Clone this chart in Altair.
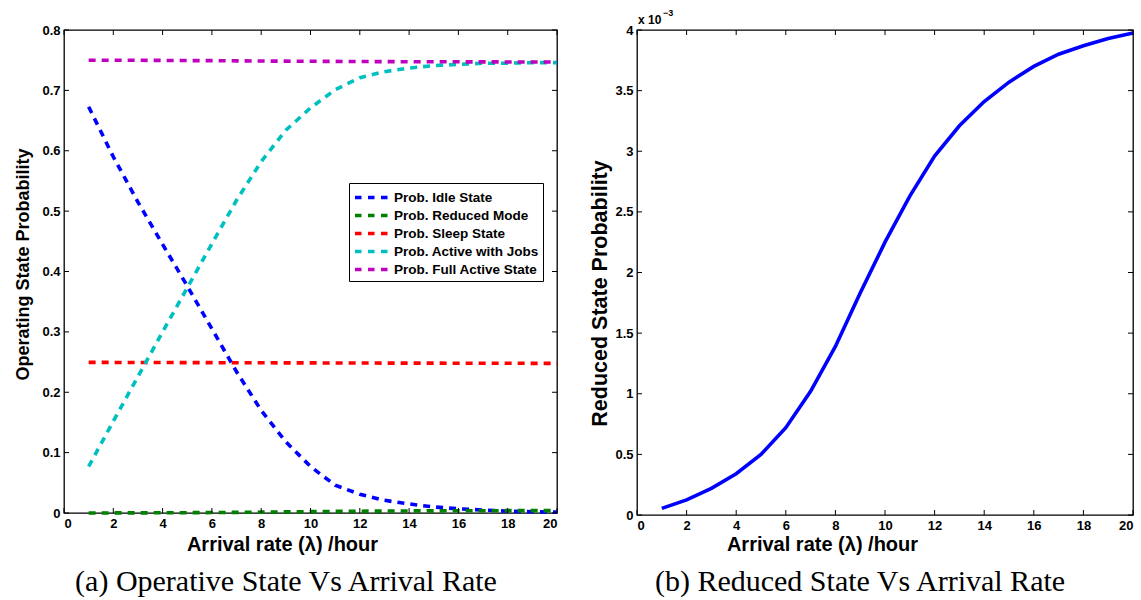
import altair as alt
import pandas as pd

# ---------------- data ----------------
lam = list(range(1, 21))

p_idle = [0.673, 0.590, 0.515, 0.445, 0.376, 0.305, 0.234, 0.170, 0.118, 0.077,
          0.046, 0.031, 0.021, 0.015, 0.010, 0.007, 0.005, 0.003, 0.002, 0.0015]
p_active = [0.077, 0.152, 0.226, 0.300, 0.373, 0.446, 0.518, 0.582, 0.634, 0.671,
            0.701, 0.721, 0.731, 0.737, 0.741, 0.743, 0.745, 0.745, 0.746, 0.746]
p_sleep = [0.2495, 0.2494, 0.2493, 0.2492, 0.2491, 0.2490, 0.2489, 0.2488, 0.2487, 0.2486,
           0.2485, 0.2484, 0.2483, 0.2482, 0.2482, 0.2481, 0.2480, 0.2480, 0.2479, 0.2479]
p_full = [0.7500, 0.7499, 0.7498, 0.7496, 0.7494, 0.7492, 0.7489, 0.7486, 0.7484, 0.7482,
          0.7480, 0.7478, 0.7476, 0.7475, 0.7474, 0.7473, 0.7472, 0.7471, 0.7471, 0.7470]
# reduced-state probability, in units of 1e-3 (as on the right axis)
p_reduced_e3 = [0.055, 0.125, 0.22, 0.34, 0.50, 0.72, 1.02, 1.39, 1.83, 2.25,
                2.63, 2.96, 3.21, 3.41, 3.57, 3.70, 3.80, 3.87, 3.93, 3.975]

series_names = ["Prob. Idle State", "Prob. Reduced Mode", "Prob. Sleep State",
                "Prob. Active with Jobs", "Prob. Full Active State"]
series_colors = ["#0000FF", "#008000", "#FF0000", "#00BFBF", "#BF00BF"]

x_ticks = [0, 2, 4, 6, 8, 10, 12, 14, 16, 18, 20]
left_y_ticks = [0, 0.1, 0.2, 0.3, 0.4, 0.5, 0.6, 0.7, 0.8]
right_y_ticks = [0, 0.5, 1, 1.5, 2, 2.5, 3, 3.5, 4]

x_title = "Arrival rate (λ) /hour"
left_y_title = "Operating State Probability"
right_y_title = "Reduced State Probability"
caption_a = "(a) Operative State Vs Arrival Rate"
caption_b = "(b) Reduced State Vs Arrival Rate"
exp_base = "x 10"
exp_power = "−3"

# ---------------- tables ----------------
left_series = [p_idle, [v * 1e-3 for v in p_reduced_e3], p_sleep, p_active, p_full]
rows = []
for k, (name, vals) in enumerate(zip(series_names, left_series)):
    for xv, yv in zip(lam, vals):
        rows.append({"x": xv, "y": yv, "series": name, "k": k})
df_left = pd.DataFrame(rows)
df_right = pd.DataFrame({"x": lam, "y": p_reduced_e3})

LW, LH = 493, 483
RW, RH = 496, 485
FONT = "Liberation Sans"
SERIF = "Liberation Serif"
LINE_W = 3.6


def x_axis(title_x, title_y):
    return alt.Axis(title=x_title, values=x_ticks, format="~g", grid=False, domain=False,
                    ticks=False, tickSize=0, labelFont=FONT, labelFontWeight="bold",
                    labelFontSize=13, labelPadding=4, labelColor="black",
                    titleFont=FONT, titleFontWeight="bold", titleFontSize=20,
                    titleColor="black", titleX=title_x, titleY=title_y,
                    titleAlign="center", titleBaseline="middle")


def y_axis(title, values, title_x, title_y, size):
    return alt.Axis(title=title, values=values, format="~g", grid=False, domain=False,
                    ticks=False, tickSize=0, labelFont=FONT, labelFontWeight="bold",
                    labelFontSize=13, labelPadding=4, labelColor="black",
                    titleFont=FONT, titleFontWeight="bold", titleFontSize=size,
                    titleColor="black", titleX=title_x, titleY=title_y,
                    titleAlign="center", titleBaseline="middle")


def tick_layers(xs, ys, xenc, yenc, W, H):
    tx = pd.DataFrame({"x": xs})
    ty = pd.DataFrame({"y": ys})
    base_x = alt.Chart(tx).mark_rule(color="black", strokeWidth=1)
    base_y = alt.Chart(ty).mark_rule(color="black", strokeWidth=1)
    return [
        base_x.encode(x=xenc, y=alt.value(H), y2=alt.value(H - 5)),
        base_x.encode(x=xenc, y=alt.value(0), y2=alt.value(5)),
        base_y.encode(y=yenc, x=alt.value(0), x2=alt.value(5)),
        base_y.encode(y=yenc, x=alt.value(W - 5), x2=alt.value(W)),
    ]


# ---------------- left panel ----------------
lx = alt.X("x:Q", scale=alt.Scale(domain=[0, 20], nice=False), axis=x_axis(218, 31.5))
ly = alt.Y("y:Q", scale=alt.Scale(domain=[0, 0.8], nice=False),
           axis=y_axis(left_y_title, left_y_ticks, -41, 234, 18))

left_lines = alt.Chart(df_left).mark_line(strokeDash=[7, 6], strokeWidth=LINE_W).encode(
    x=lx, y=ly,
    color=alt.Color("series:N",
                    scale=alt.Scale(domain=series_names, range=series_colors),
                    legend=alt.Legend(title=None, orient="none", legendX=285, legendY=153,
                                      fillColor="white", strokeColor="black", padding=4,
                                      symbolType="M-2,0H2", symbolStrokeWidth=LINE_W,
                                      symbolDash=[6.5, 6.5], symbolSize=289,
                                      symbolFillColor="transparent",
                                      labelFont=FONT, labelFontWeight="bold",
                                      labelFontSize=13.5, labelColor="black",
                                      rowPadding=0, labelOffset=11.5, symbolOffset=8.5)),
    order="k:Q",
)

left_caption = alt.Chart(pd.DataFrame({"t": [caption_a]})).mark_text(
    font=SERIF, fontSize=30, align="center", baseline="middle", color="black"
).encode(x=alt.value(222), y=alt.value(552), text="t:N")

left = alt.layer(left_lines, *tick_layers(x_ticks, left_y_ticks, lx, ly, LW, LH),
                 left_caption).properties(width=LW, height=LH)

# ---------------- right panel ----------------
rx = alt.X("x:Q", scale=alt.Scale(domain=[0, 20], nice=False), axis=x_axis(185, 29.5))
ry = alt.Y("y:Q", scale=alt.Scale(domain=[0, 4], nice=False),
           axis=y_axis(right_y_title, right_y_ticks, -37, 263, 21.5))

right_line = alt.Chart(df_right).mark_line(color="#0000FF", strokeWidth=LINE_W).encode(x=rx, y=ry)

right_caption = alt.Chart(pd.DataFrame({"t": [caption_b]})).mark_text(
    font=SERIF, fontSize=30, align="center", baseline="middle", color="black"
).encode(x=alt.value(223), y=alt.value(552), text="t:N")

exp_a = alt.Chart(pd.DataFrame({"t": [exp_base]})).mark_text(
    font=FONT, fontSize=12, fontWeight="bold", align="left", baseline="alphabetic", color="black"
).encode(x=alt.value(1), y=alt.value(-6), text="t:N")
exp_b = alt.Chart(pd.DataFrame({"t": [exp_power]})).mark_text(
    font=FONT, fontSize=9, fontWeight="bold", align="left", baseline="alphabetic", color="black"
).encode(x=alt.value(26), y=alt.value(-14), text="t:N")

right = alt.layer(right_line, *tick_layers(x_ticks, right_y_ticks, rx, ry, RW, RH),
                  right_caption, exp_a, exp_b).properties(width=RW, height=RH)

chart = alt.hconcat(left, right, spacing=80, bounds="flush").resolve_legend(
    color="independent"
).properties(
    padding={"left": 13, "top": 8, "right": 0, "bottom": 0},
    background="white",
).configure_view(stroke="black", strokeWidth=1.3)

chart.save("out.html", embed_options={"renderer": "svg", "actions": False})
